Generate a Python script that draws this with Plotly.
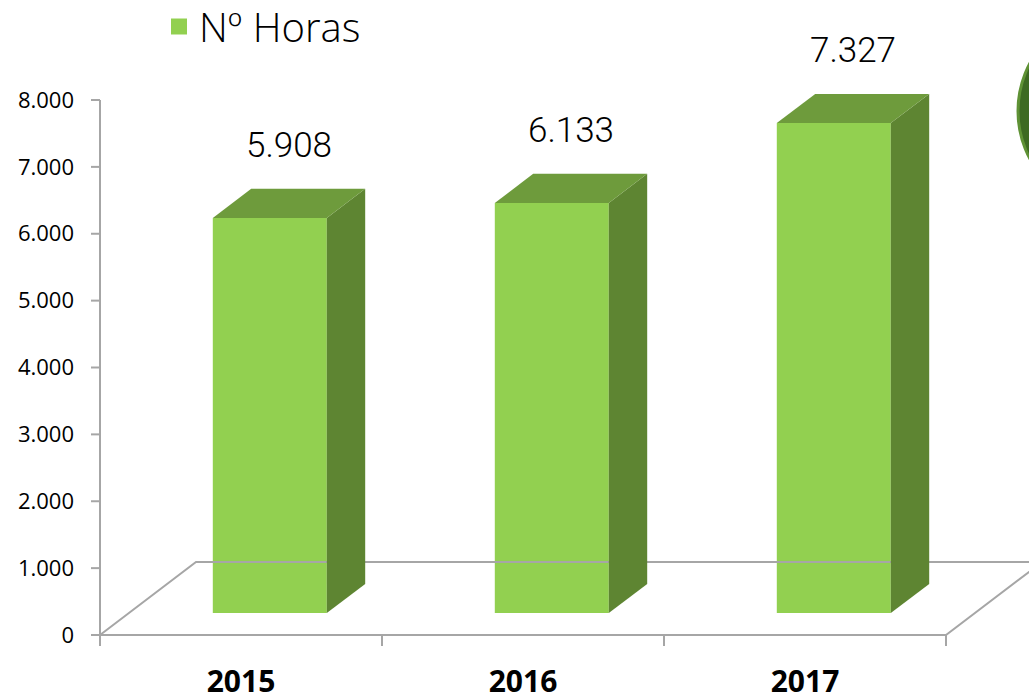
import plotly.graph_objects as go

# ---- data ----
years = ["2015", "2016", "2017"]
horas = [5908, 6133, 7327]
series_name = "Nº Horas"
y_tick_vals = [0, 1000, 2000, 3000, 4000, 5000, 6000, 7000, 8000]

# ---- geometry (pixel layout of canvas) ----
W, H = 1029, 698
PX_X0 = 100      # left edge of category axis (pixel)
PX_X1 = 946      # right edge of category axis (pixel)
PX_Y0 = 635      # value 0 (pixel)
PX_Y8 = 100      # value 8000 (pixel)
unit_x = (PX_X1 - PX_X0) / 3.0             # pixels per category
k_y = (PX_Y0 - PX_Y8) / 8000.0             # pixels per value unit
cx0 = PX_X0 + unit_x / 2                   # pixel of category 0 centre

x_range = [(0 - cx0) / unit_x, (W - cx0) / unit_x]
y_range = [(PX_Y0 - H) / k_y, PX_Y0 / k_y]

# 3D depth (floor)
floor_dx = 96 / unit_x
floor_dy = 73 / k_y
front_frac, depth_frac = 0.30, 0.40
bar_w = 114 / unit_x

FRONT = "#92D050"
TOP = "#6E9B3C"
SIDE = "#5E8532"
GRID = "#A6A6A6"

fig = go.Figure()

# floor outline (drawn first, behind bars)
fx = [-0.5, 2.5, 2.5 + floor_dx, -0.5 + floor_dx, -0.5]
fy = [0, 0, floor_dy, floor_dy, 0]
fig.add_trace(go.Scatter(x=fx, y=fy, mode="lines",
                         line=dict(color=GRID, width=2),
                         hoverinfo="skip", showlegend=False))

ox = front_frac * floor_dx
oy = front_frac * floor_dy
dx = depth_frac * floor_dx
dy = depth_frac * floor_dy

# front faces as real bars
fig.add_trace(go.Bar(
    x=[i + ox for i in range(len(years))], y=horas, base=oy,
    width=bar_w, marker=dict(color=FRONT, line=dict(width=0)),
    name=series_name, showlegend=False, hoverinfo="y"))

# legend entry (square swatch)
fig.add_trace(go.Scatter(
    x=[None], y=[None], mode="markers", name=series_name,
    marker=dict(symbol="square", size=22, color=FRONT), showlegend=True))

for i, v in enumerate(horas):
    xl = i + ox - bar_w / 2
    xr = i + ox + bar_w / 2
    # side face
    fig.add_trace(go.Scatter(
        x=[xr, xr + dx, xr + dx, xr, xr],
        y=[oy, oy + dy, oy + dy + v, oy + v, oy],
        fill="toself", fillcolor=SIDE, mode="lines", line=dict(width=0),
        hoverinfo="skip", showlegend=False))
    # top face
    fig.add_trace(go.Scatter(
        x=[xl, xl + dx, xr + dx, xr, xl],
        y=[oy + v, oy + dy + v, oy + dy + v, oy + v, oy + v],
        fill="toself", fillcolor=TOP, mode="lines", line=dict(width=0),
        hoverinfo="skip", showlegend=False))
    # value label
    fig.add_annotation(
        x=i + ox + dx / 2, y=oy + dy + v, xref="x", yref="y",
        text=f"{v:,}".replace(",", "."), showarrow=False,
        yanchor="middle", yshift=43,
        font=dict(family="Roboto, sans-serif", size=35, color="#000000", weight=300))

# decorative circle at the right edge
fig.add_shape(type="circle", xref="paper", yref="paper",
              x0=(1018) / W, x1=(1018 + 204) / W,
              y0=(H - 213) / H, y1=(H - 9) / H,
              fillcolor="#3D6A22", line=dict(color="#5F9235", width=3),
              layer="above")

# x tick marks at category boundaries
for xb in [-0.5, 0.5, 1.5, 2.5]:
    fig.add_shape(type="line", xref="x", yref="y", x0=xb, x1=xb,
                  y0=0, y1=-11 / k_y, line=dict(color=GRID, width=2))
# y axis line and ticks
fig.add_shape(type="line", xref="x", yref="y", x0=-0.5, x1=-0.5,
              y0=0, y1=8000, line=dict(color=GRID, width=2))
for yv in y_tick_vals:
    fig.add_shape(type="line", xref="x", yref="y",
                  x0=-0.5 - 9 / unit_x, x1=-0.5, y0=yv, y1=yv,
                  line=dict(color=GRID, width=2))

fig.update_layout(
    width=W, height=H, autosize=False,
    margin=dict(l=0, r=0, t=0, b=0, autoexpand=False),
    paper_bgcolor="white", plot_bgcolor="white",
    separators=",.",
    hovermode=False,
    showlegend=True,
    legend=dict(x=159 / W, y=1 + 6 / H, xanchor="left", yanchor="top",
                font=dict(family="Open Sans", size=40, color="#000000", weight=300),
                bgcolor="rgba(0,0,0,0)", itemsizing="trace"),
    xaxis=dict(range=x_range, showgrid=False, zeroline=False, showline=False,
               tickvals=[0, 1, 2], ticktext=years, ticks="",
               anchor="free", position=(H - PX_Y0) / H,
               ticklabelstandoff=26,
               tickfont=dict(family="Open Sans", size=30, color="#000000", weight="bold"),
               fixedrange=True),
    yaxis=dict(range=y_range, showgrid=False, zeroline=False, showline=False,
               tickvals=y_tick_vals, tickformat=",d", ticks="",
               anchor="free", position=(PX_X0 - 9) / W,
               ticklabelstandoff=17,
               tickfont=dict(family="Open Sans", size=22, color="#000000"),
               fixedrange=True),
)

post = (
    "var d=document.getElementById('{plot_id}');"
    "d.style.position='absolute';d.style.left='0px';d.style.top='0px';"
    "document.body.style.margin='0';document.body.style.padding='0';"
    "document.body.style.height='698px';document.body.style.overflow='hidden';"
    "document.documentElement.style.height='698px';"
    "document.documentElement.style.overflow='hidden';"
)
fig.write_html("out.html", post_script=post, config={"displayModeBar": False})
